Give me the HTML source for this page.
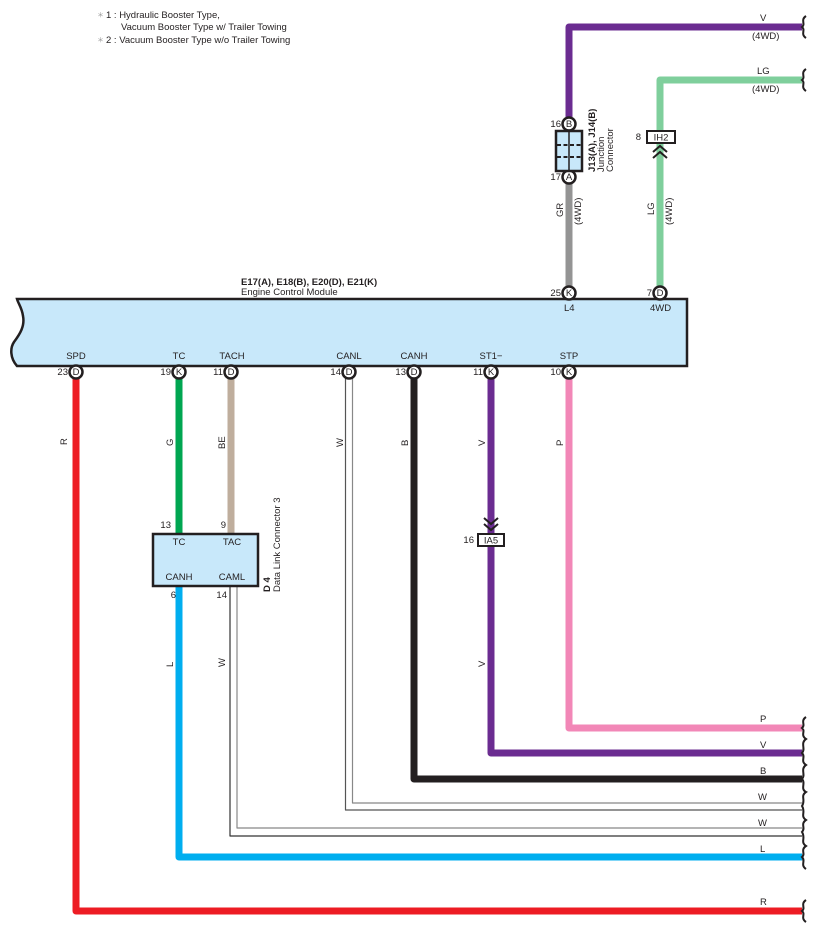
<!DOCTYPE html>
<html><head><meta charset="utf-8"><style>
html,body{margin:0;padding:0;background:#fff}
svg{display:block}
text{font-family:"Liberation Sans",sans-serif;font-size:9.5px;fill:#231f20}
</style></head><body>
<svg width="816" height="933" viewBox="0 0 816 933" xmlns="http://www.w3.org/2000/svg">
<text x="97" y="17" style="fill:#999;font-size:7px">＊</text>
<text x="106" y="18">1 : Hydraulic Booster Type,</text>
<text x="121" y="30">Vacuum Booster Type w/ Trailer Towing</text>
<text x="97" y="42" style="fill:#999;font-size:7px">＊</text>
<text x="106" y="43">2 : Vacuum Booster Type w/o Trailer Towing</text>

<g fill="none" stroke-linejoin="round" stroke-linecap="butt">
<path d="M569 117 V27 H802" stroke="#6b2c91" stroke-width="7"/>
<path d="M660 286 V80 H802" stroke="#7fcf9c" stroke-width="7"/>
<path d="M569 184 V286" stroke="#949494" stroke-width="7"/>
<path d="M76 378 V911 H802" stroke="#ed1c24" stroke-width="7"/>
<path d="M179 378 V533" stroke="#00a651" stroke-width="7"/>
<path d="M231 378 V533" stroke="#bfae9d" stroke-width="7"/>
<path d="M345.5 378 V810 H802" stroke="#555" stroke-width="1.2"/>
<path d="M352.5 378 V803 H802" stroke="#888" stroke-width="1.2"/>
<path d="M230 587 V836 H802" stroke="#333" stroke-width="1.2"/>
<path d="M237 587 V828 H802" stroke="#888" stroke-width="1.2"/>
<path d="M414 378 V779 H802" stroke="#231f20" stroke-width="7"/>
<path d="M491 378 V753 H802" stroke="#6b2c91" stroke-width="7"/>
<path d="M569 378 V728 H802" stroke="#f287b7" stroke-width="7"/>
<path d="M179 587 V857 H802" stroke="#00aeef" stroke-width="7"/>
</g>

<g fill="none" stroke="#231f20" stroke-width="2">
<path d="M806 16 C800 20,806 24,802 27 C806 30,800 34,806 38"/>
<path d="M806 69 C800 73,806 77,802 80 C806 83,800 87,806 91"/>
<path d="M806 717 C800 721,806 725,802 728 C806 731,800 735,806 739 C800 743,806 749,802 753 C806 757,800 761,806 765 C800 769,806 775,802 779 C806 783,800 789,806 792 C800 796,806 800,802 806 C806 812,800 816,806 820 C800 824,806 828,802 832 C806 838,800 842,806 846 C800 850,806 854,802 857 C806 861,800 865,806 869"/>
<path d="M806 900 C800 904,806 908,802 911 C806 914,800 918,806 922"/>
</g>

<text x="760" y="21">V</text><text x="752" y="39">(4WD)</text>
<text x="757" y="74">LG</text><text x="752" y="92">(4WD)</text>
<text x="760" y="722">P</text>
<text x="760" y="748">V</text>
<text x="760" y="774">B</text>
<text x="758" y="800">W</text>
<text x="758" y="826">W</text>
<text x="760" y="852">L</text>
<text x="760" y="905">R</text>

<g>
<text transform="translate(67,445) rotate(-90)">R</text>
<text transform="translate(173,446) rotate(-90)">G</text>
<text transform="translate(225,449) rotate(-90)">BE</text>
<text transform="translate(343,447) rotate(-90)">W</text>
<text transform="translate(408,446) rotate(-90)">B</text>
<text transform="translate(485,446) rotate(-90)">V</text>
<text transform="translate(563,446) rotate(-90)">P</text>
<text transform="translate(173,667) rotate(-90)">L</text>
<text transform="translate(225,667) rotate(-90)">W</text>
<text transform="translate(485,667) rotate(-90)">V</text>
<text transform="translate(563,217) rotate(-90)">GR</text>
<text transform="translate(581,225) rotate(-90)">(4WD)</text>
<text transform="translate(654,215) rotate(-90)">LG</text>
<text transform="translate(672,225) rotate(-90)">(4WD)</text>
</g>

<path d="M17 299 H687 V366 H17 C10 358,10 348,14 342 C20 334,25 326,23 316 C22 308,18 303,17 299 Z" fill="#c8e8fa" stroke="#231f20" stroke-width="2.5"/>
<text x="241" y="285" style="font-weight:bold">E17(A), E18(B), E20(D), E21(K)</text>
<text x="241" y="295">Engine Control Module</text>
<text x="564" y="311">L4</text>
<text x="650" y="311">4WD</text>
<g text-anchor="middle">
<text x="76" y="359">SPD</text><text x="179" y="359">TC</text><text x="232" y="359">TACH</text>
<text x="349" y="359">CANL</text><text x="414" y="359">CANH</text><text x="491" y="359">ST1−</text><text x="569" y="359">STP</text>
</g>

<g>
<g fill="#fff" stroke="#231f20" stroke-width="2.5">
<circle cx="76" cy="372" r="6.5"/><circle cx="179" cy="372" r="6.5"/><circle cx="231" cy="372" r="6.5"/>
<circle cx="349" cy="372" r="6.5"/><circle cx="414" cy="372" r="6.5"/><circle cx="491" cy="372" r="6.5"/><circle cx="569" cy="372" r="6.5"/>
<circle cx="569" cy="293" r="6.5"/><circle cx="660" cy="293" r="6.5"/>
<circle cx="569" cy="124" r="6.5"/><circle cx="569" cy="177" r="6.5"/>
</g>
<g text-anchor="middle" style="font-size:8.5px">
<text x="76" y="375">D</text><text x="179" y="375">K</text><text x="231" y="375">D</text>
<text x="349" y="375">D</text><text x="414" y="375">D</text><text x="491" y="375">K</text><text x="569" y="375">K</text>
<text x="569" y="296">K</text><text x="660" y="296">D</text>
<text x="569" y="127">B</text><text x="569" y="180">A</text>
</g>
<g text-anchor="end">
<text x="68" y="375">23</text><text x="171" y="375">19</text><text x="223" y="375">11</text>
<text x="341" y="375">14</text><text x="406" y="375">13</text><text x="483" y="375">11</text><text x="561" y="375">10</text>
<text x="561" y="296">25</text><text x="652" y="296">7</text>
<text x="561" y="127">16</text><text x="561" y="180">17</text>
</g>
</g>

<rect x="556" y="131" width="26" height="40" fill="#c8e8fa" stroke="#231f20" stroke-width="2.5"/>
<path d="M569 131 V171" stroke="#231f20" stroke-width="1.5"/>
<path d="M557 145 H581 M557 157 H581" stroke="#231f20" stroke-width="2" stroke-dasharray="4,2.5"/>
<text transform="translate(595,172) rotate(-90)" style="font-weight:bold">J13(A), J14(B)</text>
<text transform="translate(604,172) rotate(-90)">Junction</text>
<text transform="translate(613,172) rotate(-90)">Connector</text>

<rect x="647" y="131" width="28" height="12" fill="#fff" stroke="#231f20" stroke-width="2"/>
<text x="661" y="140.5" text-anchor="middle">IH2</text>
<text x="641" y="140" text-anchor="end">8</text>
<path d="M653 152 L660 146 L667 152 M653 158 L660 152 L667 158" fill="none" stroke="#231f20" stroke-width="2"/>

<path d="M484 518 L491 524 L498 518 M484 524 L491 530 L498 524" fill="none" stroke="#231f20" stroke-width="2"/>
<rect x="478" y="534" width="26" height="12" fill="#fff" stroke="#231f20" stroke-width="2"/>
<text x="491" y="543.5" text-anchor="middle">IA5</text>
<text x="474" y="543" text-anchor="end">16</text>

<rect x="153" y="534" width="105" height="52" fill="#c8e8fa" stroke="#231f20" stroke-width="2.5"/>
<text x="179" y="545" text-anchor="middle">TC</text>
<text x="232" y="545" text-anchor="middle">TAC</text>
<text x="179" y="580" text-anchor="middle">CANH</text>
<text x="232" y="580" text-anchor="middle">CAML</text>
<text x="171" y="528" text-anchor="end">13</text>
<text x="226" y="528" text-anchor="end">9</text>
<text x="176" y="598" text-anchor="end">6</text>
<text x="227" y="598" text-anchor="end">14</text>
<text transform="translate(270,592) rotate(-90)" style="font-weight:bold">D 4</text>
<text transform="translate(280,592) rotate(-90)">Data Link Connector 3</text>
</svg>
</body></html>
